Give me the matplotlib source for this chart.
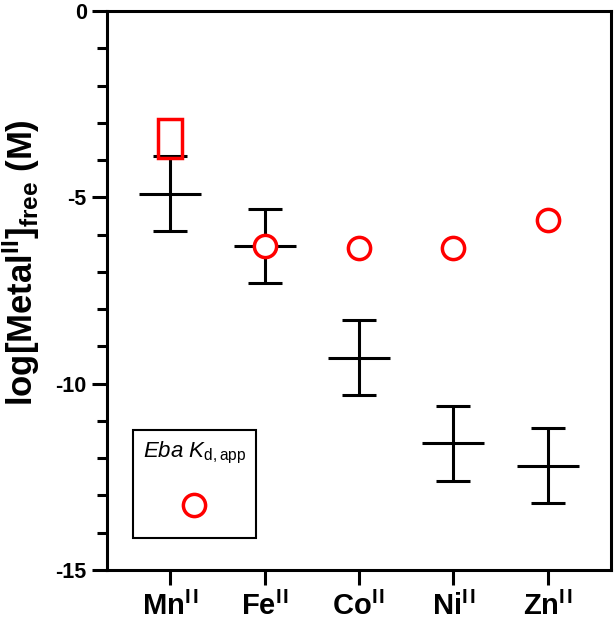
import numpy as np
import matplotlib
matplotlib.use("Agg")
import matplotlib.pyplot as plt
from matplotlib.lines import Line2D

plt.rcParams['font.family'] = 'Liberation Sans'
plt.rcParams['mathtext.fontset'] = 'custom'
plt.rcParams['mathtext.rm'] = 'Liberation Sans'
plt.rcParams['mathtext.bf'] = 'Liberation Sans:bold'
plt.rcParams['mathtext.it'] = 'Liberation Sans:italic'
plt.rcParams['axes.unicode_minus'] = False

# data
metals = ['Mn', 'Fe', 'Co', 'Ni', 'Zn']
free_mean = [-4.9, -6.3, -9.3, -11.6, -12.2]
free_err = [1.0, 1.0, 1.0, 1.0, 1.0]
kd_app = [np.nan, -6.3, -6.35, -6.35, -5.6]
# Mn Kd,app given as a range
mn_kd_low = -3.95
mn_kd_high = -2.9

x = np.arange(len(metals))

fig = plt.figure(figsize=(6.16, 6.26), dpi=100)
ax = fig.add_axes([0.1737, 0.0895, 0.8183, 0.8929])

ax.errorbar(x, free_mean, yerr=free_err, fmt='_', color='black', ms=44.6, mew=2.2,
            elinewidth=2.2, capsize=12.2, capthick=2.2, zorder=2)
ax.plot(x, kd_app, ls='none', marker='o', ms=16, mfc='white', mec='red', mew=2.5, zorder=3)
ax.bar(x[0], mn_kd_high - mn_kd_low, bottom=mn_kd_low, width=0.25, fill=False,
       edgecolor='red', linewidth=2.5, zorder=3)

ax.set_xlim(-0.67, 4.67)
ax.set_ylim(-15, 0)
ax.set_yticks([0, -5, -10, -15])
ax.set_yticks(np.arange(-15, 0, 1), minor=True)
ax.set_xticks(x)
ax.set_xticklabels([r'$\mathbf{' + m + r'}^{\mathbf{I}\hspace{0.12}\mathbf{I}}$' for m in metals],
                   fontsize=21)
ax.tick_params(axis='y', which='major', labelsize=15.5, length=11, width=2.2)
ax.tick_params(axis='y', which='minor', length=7, width=2.2)
ax.tick_params(axis='x', which='major', length=11, width=2.2, pad=5)
for lab in ax.get_yticklabels():
    lab.set_fontweight('bold')
for sp in ax.spines.values():
    sp.set_linewidth(2.2)

ax.set_ylabel(r'$\mathbf{log[Metal^{II}]_{free}\ (M)}$', fontsize=25)
ax.yaxis.set_label_coords(-0.129, 0.55)

handle = Line2D([], [], ls='none', marker='o', ms=16, mfc='none', mec='red', mew=2.5)
leg = ax.legend(handles=[handle], labels=[''], title=r'$\mathit{Eba}\ \mathit{K}_{\mathrm{d,app}}$',
                title_fontsize=16, fontsize=10, loc='lower left',
                bbox_to_anchor=(0.0516, 0.0572), borderaxespad=0, fancybox=False,
                edgecolor='black', framealpha=1, handletextpad=0, handlelength=2,
                handleheight=3.35, borderpad=0.7, labelspacing=2.09)
leg.get_frame().set_linewidth(1.5)

fig.savefig('out.png', dpi=100)
